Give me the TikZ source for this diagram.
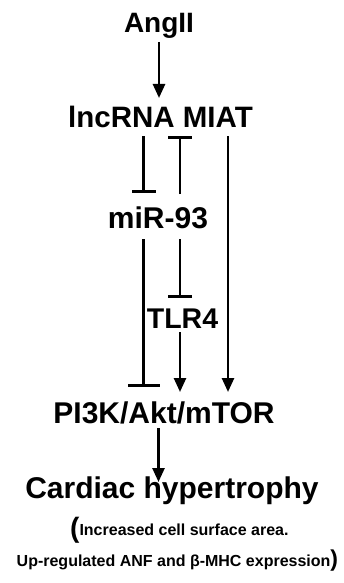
\documentclass[tikz,border=0pt]{standalone}
\usepackage{fontspec}
\setmainfont{Liberation Sans}
\usetikzlibrary{arrows.meta}

\begin{document}
\begin{tikzpicture}[
  x=1pt, y=-1pt,
  lbl/.style={inner sep=0pt, anchor=base, font=\bfseries\fontsize{#1}{#1}\selectfont},
  note/.style={inner sep=0pt, anchor=base west, font=\bfseries\fontsize{16}{16}\selectfont},
  ar/.style={-{Triangle[length=14pt,width=12pt]}, line width=2.6pt},
  inh/.style={-{Bar[width=#1]}, line width=2.6pt},
  inh/.default=24pt,
]
\useasboundingbox (0,0) rectangle (344,583);

% ---------- columns for the vertical connectors ----------
\coordinate (colA) at (159,0);
\coordinate (colL) at (143.5,0);
\coordinate (colM) at (180,0);
\coordinate (colR) at (228,0);
\coordinate (colB) at (158.5,0);

% ---------- nodes ----------
\node[lbl=28]   (angii) at (159,33)   {AngII};
\node[lbl=29.5] (miat)  at (160.5,128) {lncRNA MIAT};
\node[lbl=30]   (mir)   at (158,228)  {miR-93};
\node[lbl=28.5] (tlr)   at (182.5,328) {TLR4};
\node[lbl=30]   (pik)   at (164,423)  {PI3K/Akt/mTOR};
\node[lbl=30]   (card)  at (172,498)  {Cardiac hypertrophy};
\node[note] (area) at (70,535)
  {{\fontsize{28}{28}\selectfont\raisebox{-2pt}{(}}Increased cell surface area.};
\node[note] (anf)  at (16.5,566)
  {Up-regulated ANF and β-MHC expression{\fontsize{23}{23}\selectfont)}};

% ---------- connectors ----------
\draw[ar]  (angii.base -| colA) -- (miat.base -| colA) [shorten <=9pt, shorten >=30pt];
\draw[inh] (miat.base -| colL) -- (mir.base -| colL) [shorten <=8pt, shorten >=35pt];
\draw[inh] (mir.base -| colM) -- (miat.base -| colM) [shorten <=34pt, shorten >=8pt];
\draw[ar]  (miat.base -| colR) -- (pik.base -| colR) [shorten <=8pt, shorten >=31pt];
\draw[inh=32pt] (mir.base -| colL) -- (pik.base -| colL) [shorten <=11pt, shorten >=36pt];
\draw[inh] (mir.base -| colM) -- (tlr.base -| colM) [shorten <=11pt, shorten >=30pt];
\draw[ar]  (tlr.base -| colM) -- (pik.base -| colM) [shorten <=4pt, shorten >=31pt];
\draw[ar]  (pik.base -| colB) -- (card.base -| colB) [shorten <=5pt, shorten >=16pt];
\end{tikzpicture}
\end{document}
